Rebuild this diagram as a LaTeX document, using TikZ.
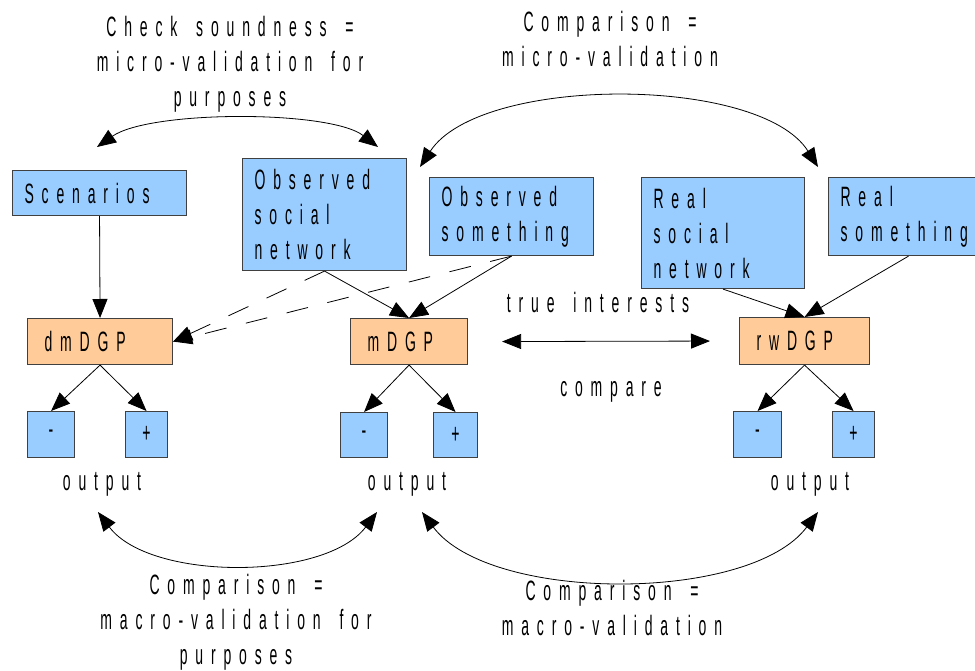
\documentclass[tikz,border=0pt]{standalone}
\usepackage{fontspec}
\setmainfont{Liberation Sans}[FakeStretch=0.5,LetterSpace=28,WordSpace=1.6]
\usepackage{tikz}
\usetikzlibrary{arrows.meta, positioning, calc}
\definecolor{BoxBlue}{HTML}{99CCFF}
\definecolor{BoxOrange}{HTML}{FFCC99}
\definecolor{EdgeGray}{HTML}{404040}
\tikzset{
  >={Triangle[length=19pt,width=15pt]},  % punte piene
  % Caselle
  box/.style={draw=EdgeGray,line width=1.1pt,anchor=north west,align=left,inner xsep=12pt,inner ysep=0pt},
  box in/.style={box,fill=BoxBlue},
  box model/.style={box,fill=BoxOrange,inner xsep=17pt},
  box sign/.style={box,fill=BoxBlue,align=center,inner sep=0pt},
  % Connessioni
  connect/.style={->,line width=0.8pt},
  connect both/.style={<->,line width=0.8pt},
  connect dashed/.style={->,line width=0.8pt,dash pattern=on 22pt off 20pt},
  note/.style={align=center}
}

\begin{document}
\begin{tikzpicture}[x=1pt,y=-1pt,font=\fontsize{28pt}{35pt}\selectfont]
    \useasboundingbox (0,0) rectangle (975,671);
    \node[box in,text width=150pt,minimum height=45pt] (scen) at (12,170) {Scenarios};
    \node[box in,text width=140pt,minimum height=112pt] (obsnet) at (242,158) {Observed\\social\\network};
    \node[box in,text width=140pt,minimum height=78pt] (obssth) at (429,177) {Observed\\something};
    \node[box in,text width=139pt,minimum height=111pt] (realnet) at (641,177) {Real\\social\\network};
    \node[box in,text width=136pt,minimum height=78pt] (realsth) at (828,177) {Real\\something};
    \node[box model,text width=111pt,minimum height=46pt] (dm) at (27,318) {dmDGP};
    \node[box model,text width=83pt,minimum height=46pt] (m) at (350,318) {mDGP};
    \node[box model,text width=96pt,minimum height=47pt] (rw) at (739,317) {rwDGP};
    \node[box sign,minimum width=47pt,minimum height=46pt] (dmminus) at (27,411) {-};
    \node[box sign,minimum width=42pt,minimum height=46pt] (dmplus) at (125,411) {+};
    \node[box sign,minimum width=47pt,minimum height=45pt] (mminus) at (340,412) {-};
    \node[box sign,minimum width=44pt,minimum height=45pt] (mplus) at (433,412) {+};
    \node[box sign,minimum width=48pt,minimum height=46pt] (rwminus) at (733,411) {-};
    \node[box sign,minimum width=42pt,minimum height=46pt] (rwplus) at (832,411) {+};
    \node (dmout) at (102,484) {output};
    \node (mout) at (407,484) {output};
    \node (rwout) at (810,484) {output};
    \node (truei) at (598,302) {true interests};
    \node (cmp) at (611,392) {compare};
    \node[note] (checktxt) at (230,64) {Check soundness =\\micro-validation for\\purposes};
    \node[note] (microtxt) at (610,39) {Comparison =\\micro-validation};
    \node[note] (macrofortxt) at (236,622) {Comparison =\\macro-validation for\\purposes};
    \node[note] (macrotxt) at (612,608) {Comparison =\\macro-validation};
    \coordinate (tl1) at (97,147);
    \coordinate (tl2) at (378,147);
    \coordinate (tr1) at (420,167);
    \coordinate (tr2) at (818,167);
    \coordinate (bl1) at (98,512);
    \coordinate (bl2) at (377,512);
    \coordinate (br1) at (422,512);
    \coordinate (br2) at (818,512);
    \draw[connect] (scen.south) -- (dm.north);
    \draw[connect] (obsnet.south) -- (m.north);
    \draw[connect] (obssth.south) -- (m.north);
    \draw[connect] (realnet.south) -- (rw.north);
    \draw[connect] (realsth.south) -- (rw.north);
    \draw[connect dashed] (obsnet.south) -- (dm.east);
    \draw[connect dashed] (obssth.south) -- (dm.east);
    \foreach \g in {dm,m,rw}{
      \draw[connect] (\g.south) -- (\g minus.north);
      \draw[connect] (\g.south) -- (\g plus.north);
    }
    \draw[connect both] ([xshift=34pt]m.east) -- ([xshift=-29pt]rw.west);
    \draw[connect both] (tl1) .. controls (150,110) and (330,110) .. (tl2);
    \draw[connect both] (tr1) .. controls (480,75) and (760,75) .. (tr2);
    \draw[connect both] (bl1) .. controls (150,581) and (325,581) .. (bl2);
    \draw[connect both] (br1) .. controls (490,603) and (750,603) .. (br2);
\end{tikzpicture}
\end{document}
